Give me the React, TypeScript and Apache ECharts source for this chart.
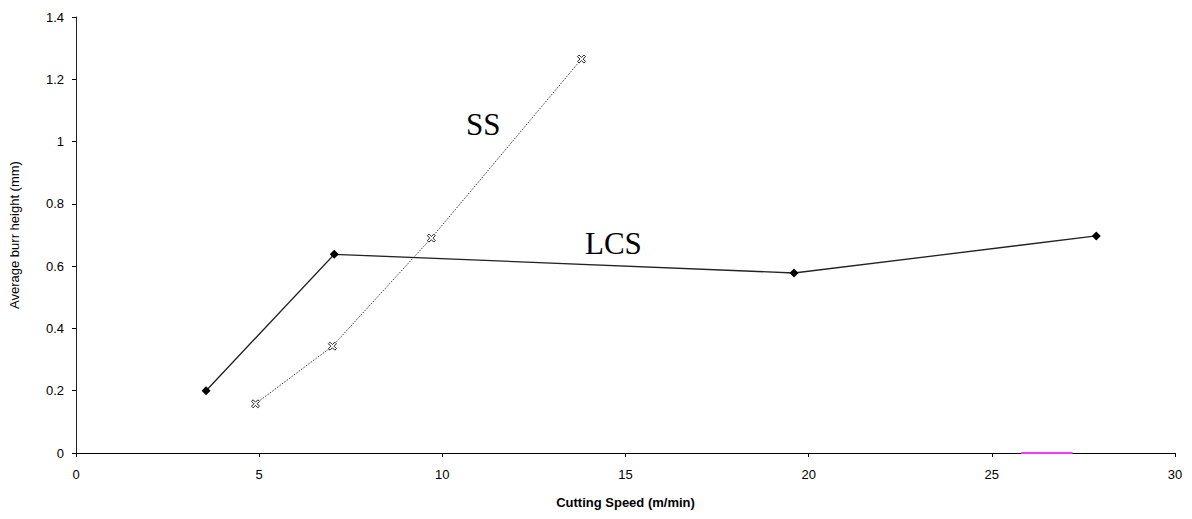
import React, { useEffect, useRef } from "react";
import * as echarts from "echarts";

const lcsX = [3.55, 7.05, 19.6, 27.85];
const lcsY = [0.2, 0.638, 0.578, 0.697];
const ssX = [4.9, 7.0, 9.7, 13.8];
const ssY = [0.158, 0.343, 0.69, 1.265];
const yTicks = [0, 0.2, 0.4, 0.6, 0.8, 1, 1.2, 1.4];

const crossSymbol =
  "path://M2,0 L5,3 L8,0 L10,2 L7,5 L10,8 L8,10 L5,7 L2,10 L0,8 L3,5 L0,2 Z";

export default function App() {
  const ref = useRef<HTMLDivElement>(null);
  useEffect(() => {
    if (!ref.current) return;
    const chart = echarts.init(ref.current, null, { renderer: "svg" });
    chart.setOption({
      animation: false,
      backgroundColor: "#ffffff",
      grid: { left: 73, right: 17, top: 17, bottom: 66, containLabel: false },
      xAxis: {
        type: "value",
        min: 0,
        max: 30,
        interval: 5,
        name: "Cutting Speed (m/min)",
        nameLocation: "middle",
        nameGap: 43,
        nameTextStyle: { fontFamily: "Liberation Sans, Arial", fontSize: 13, fontWeight: "bold", color: "#000" },
        axisLine: { onZero: false, lineStyle: { color: "#000", width: 1.2 } },
        axisTick: { show: true, length: 4, lineStyle: { color: "#000" } },
        axisLabel: { fontFamily: "Liberation Sans, Arial", fontSize: 13, color: "#000", margin: 15 },
        splitLine: { show: false },
      },
      yAxis: {
        type: "value",
        min: 0,
        max: 1.4,
        interval: 0.2,
        name: "Average burr height (mm)",
        nameLocation: "middle",
        nameGap: 55,
        nameTextStyle: { fontFamily: "Liberation Sans, Arial", fontSize: 13, color: "#000" },
        axisLine: { show: true, lineStyle: { color: "#222", width: 1 } },
        axisTick: { show: true, length: 4, lineStyle: { color: "#000" } },
        axisLabel: {
          fontFamily: "Liberation Sans, Arial",
          fontSize: 13,
          color: "#000",
          margin: 12,
          formatter: (v: number) => {
            const t = yTicks.find((k) => Math.abs(k - v) < 1e-6);
            return t === undefined ? "" : String(t);
          },
        },
        splitLine: { show: false },
      },
      series: [
        {
          name: "LCS",
          type: "line",
          data: lcsX.map((x, i) => [x, lcsY[i]]),
          symbol: "diamond",
          symbolSize: 9,
          itemStyle: { color: "#000" },
          lineStyle: { color: "#222", width: 1.3, type: "solid" },
          z: 3,
        },
        {
          name: "SS",
          type: "line",
          data: ssX.map((x, i) => [x, ssY[i]]),
          symbol: crossSymbol,
          symbolSize: 8,
          itemStyle: { color: "#fff", borderColor: "#222", borderWidth: 1 },
          lineStyle: { color: "#333", width: 1, type: [1.5, 1.5] },
          z: 3,
          markLine: {
            silent: true,
            symbol: "none",
            label: { show: false },
            lineStyle: { color: "#ff33ff", width: 2, type: "solid" },
            data: [[{ coord: [25.8, 0] }, { coord: [27.2, 0] }]],
          },
        },
      ],
      graphic: [
        {
          type: "text",
          left: 466,
          top: 109,
          style: { text: "SS", font: "31px 'Liberation Serif', 'Times New Roman', serif", fill: "#000" },
        },
        {
          type: "text",
          left: 585,
          top: 228,
          style: { text: "LCS", font: "31px 'Liberation Serif', 'Times New Roman', serif", fill: "#000" },
        },
      ],
    });
    return () => chart.dispose();
  }, []);
  return (
    <div
      ref={ref}
      style={{ position: "absolute", left: 0, top: 0, width: 1192, height: 519 }}
    />
  );
}
